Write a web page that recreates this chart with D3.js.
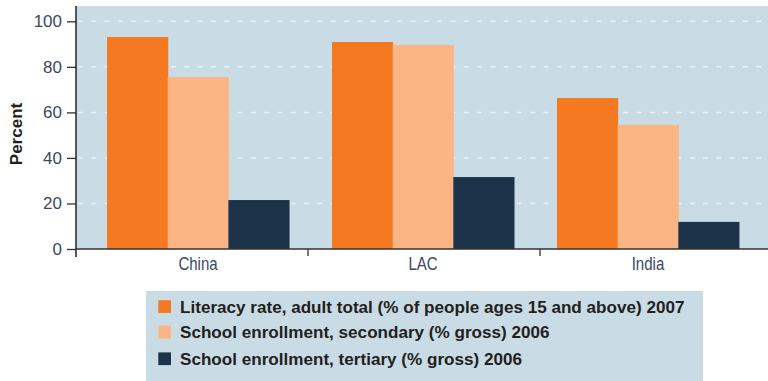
<!DOCTYPE html>
<html><head><meta charset="utf-8">
<script src="https://cdn.jsdelivr.net/npm/d3@7"></script>
<style>
html,body{margin:0;padding:0;background:#fff;}
svg{display:block;}
text{font-family:"Liberation Sans",Arial,sans-serif;}
</style></head>
<body>
<svg id="chart" width="768" height="381"></svg>
<script>
const categories = ["China", "LAC", "India"];
const seriesNames = [
  "Literacy rate, adult total (% of people ages 15 and above) 2007",
  "School enrollment, secondary (% gross) 2006",
  "School enrollment, tertiary (% gross) 2006"
];
const literacy = [93.1, 90.9, 66.3];
const secondary = [75.5, 89.6, 54.5];
const tertiary = [21.5, 31.6, 11.9];
const yTicks = [0, 20, 40, 60, 80, 100];
const colors = ["#f47920", "#fbb584", "#1d3349"];

const values = [literacy, secondary, tertiary];
const svg = d3.select("#chart");
const plot = {left: 76, right: 768, top: 6, bottom: 249};

const y = d3.scaleLinear().domain([0, 100]).range([249, 21.3]);
const x = d3.scaleBand().domain(categories).range([76, 770]).paddingInner(0.191).paddingOuter(0.138);
const xs = d3.scaleBand().domain(seriesNames).range([0, x.bandwidth()]);
const xTick = d3.scaleBand().domain(categories).range([76, 772]);

// background
svg.append("rect").attr("x", plot.left).attr("y", plot.top)
  .attr("width", plot.right - plot.left).attr("height", plot.bottom - plot.top)
  .attr("fill", "#c9dbe5");

// gridlines
svg.append("g").selectAll("line").data(yTicks.filter(d => d > 0)).join("line")
  .attr("x1", 78).attr("x2", 762)
  .attr("y1", d => y(d)).attr("y2", d => y(d))
  .attr("stroke", "#eef3f5").attr("stroke-width", 1.5).attr("stroke-dasharray", "5,8.3");

// bars
const g = svg.append("g");
categories.forEach((c, i) => {
  seriesNames.forEach((s, j) => {
    g.append("rect")
      .attr("x", x(c) + xs(s))
      .attr("y", y(values[j][i]))
      .attr("width", xs.bandwidth() + 0.5)
      .attr("height", y(0) - y(values[j][i]))
      .attr("fill", colors[j]);
  });
});

// y axis
const yAxis = svg.append("g").attr("transform", `translate(${plot.left},0)`)
  .call(d3.axisLeft(y).tickValues(yTicks).tickSize(9).tickPadding(5));
yAxis.select(".domain").remove();
yAxis.selectAll(".tick line").attr("stroke", "#333").attr("stroke-width", 1.3);
yAxis.selectAll(".tick text").attr("fill", "#3b4a5e").attr("font-size", 17);
svg.append("line").attr("x1", plot.left).attr("x2", plot.left)
  .attr("y1", plot.top).attr("y2", 257).attr("stroke", "#222").attr("stroke-width", 1.5);

// x axis
svg.append("line").attr("x1", plot.left).attr("x2", plot.right)
  .attr("y1", 249).attr("y2", 249).attr("stroke", "#333").attr("stroke-width", 1.6);
const tickPos = categories.map(c => xTick(c));
svg.append("g").selectAll("line").data(tickPos.slice(1)).join("line")
  .attr("x1", d => d).attr("x2", d => d).attr("y1", 249).attr("y2", 256)
  .attr("stroke", "#333").attr("stroke-width", 1.3);
svg.append("g").selectAll("text").data(categories).join("text")
  .attr("transform", d => `translate(${x(d) + x.bandwidth() / 2},270) scale(0.86,1)`)
  .attr("text-anchor", "middle").attr("fill", "#3b4a5e").attr("font-size", 17.5)
  .text(d => d);

// y label
svg.append("text").attr("transform", "translate(22,134) rotate(-90)")
  .attr("text-anchor", "middle").attr("font-weight", "bold").attr("font-size", 17)
  .attr("fill", "#231f20").text("Percent");

// legend
const lg = svg.append("g");
lg.append("rect").attr("x", 146).attr("y", 291).attr("width", 557).attr("height", 90).attr("fill", "#c9dbe5");
const rowY = [306.5, 332, 358.7];
seriesNames.forEach((s, j) => {
  lg.append("rect").attr("x", 158.3).attr("y", rowY[j] - 6.3).attr("width", 12.7).attr("height", 12.7).attr("fill", colors[j]);
  lg.append("text").attr("x", 180).attr("y", rowY[j] + 6.2).attr("font-size", 17.1).attr("font-weight", "bold")
    .attr("fill", "#231f20").text(s);
});
</script>
</body></html>
